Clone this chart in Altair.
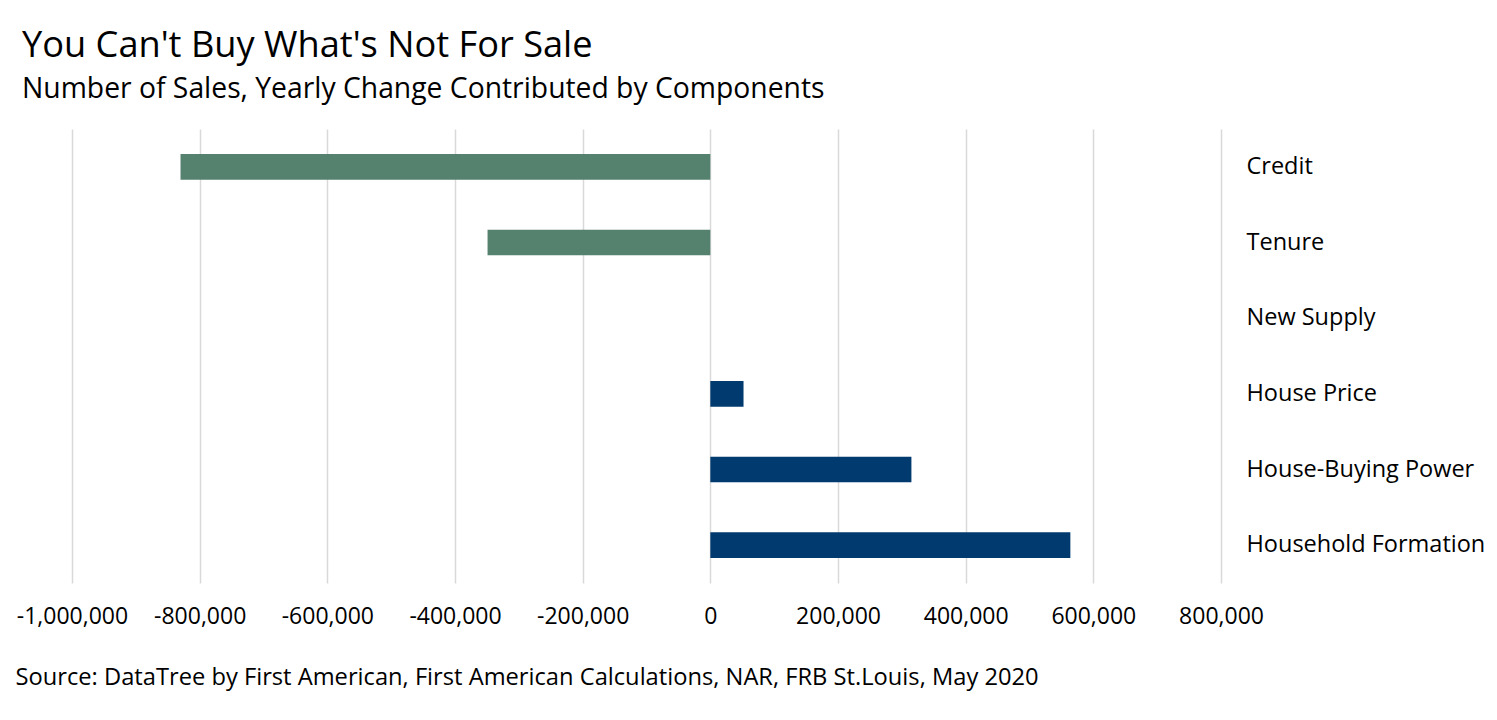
import altair as alt
import pandas as pd

categories = ["Credit", "Tenure", "New Supply", "House Price", "House-Buying Power", "Household Formation"]
values = [-830000, -349000, 0, 52000, 315000, 564000]
x_ticks = [-1000000, -800000, -600000, -400000, -200000, 0, 200000, 400000, 600000, 800000]

df = pd.DataFrame({
    "component": categories,
    "value": values,
    "sign": ["neg" if v < 0 else "pos" for v in values],
})

FONT = "Open Sans"

chart = alt.Chart(df).mark_bar().encode(
    y=alt.Y("component:N", sort=categories,
            scale=alt.Scale(paddingInner=0.66, paddingOuter=0.33),
            axis=alt.Axis(orient="right", title=None, domain=False, ticks=False,
                          labelPadding=25, labelAlign="left", labelFontSize=23.5,
                          labelColor="#000000", labelFont=FONT, grid=False,
                          labelLimit=0, labelOverlap=False)),
    x=alt.X("value:Q",
            scale=alt.Scale(domain=[-1000000, 800000], nice=False),
            axis=alt.Axis(values=x_ticks, domain=False, ticks=False,
                          labelExpr="(datum.value < 0 ? '-' : '') + format(abs(datum.value), ',')",
                          labelFontSize=23, labelColor="#000000", labelFont=FONT,
                          labelOverlap=False, labelFlush=False,
                          labelPadding=22, gridColor="#D9D9D9", gridWidth=1.5,
                          title="Source: DataTree by First American, First American Calculations, NAR, FRB St.Louis, May 2020",
                          titleX=-57, titleY=101, titleAlign="left", titleBaseline="alphabetic",
                          titleFontSize=23.7, titleFontWeight="normal", titleFont=FONT,
                          titleColor="#000000", titleAnchor="start")),
    color=alt.Color("sign:N", scale=alt.Scale(domain=["neg", "pos"], range=["#55816F", "#003A6E"]),
                    legend=None),
).properties(
    width=1149,
    height=454,
    background="#FFFFFF",
    title=alt.TitleParams(
        text="You Can't Buy What's Not For Sale",
        subtitle="Number of Sales, Yearly Change Contributed by Components",
        anchor="start", frame="group", dx=-50, offset=26,
        font=FONT, fontSize=36.2, fontWeight="normal", color="#000000",
        subtitleFont=FONT, subtitleFontSize=28.3, subtitleColor="#000000",
        subtitlePadding=12,
    ),
    autosize=alt.AutoSizeParams(type="none"),
    padding={"left": 72, "top": 129, "right": 276, "bottom": 137},
).configure_view(stroke=None)

chart.save("out.html", embed_options={"renderer": "svg", "actions": False})
